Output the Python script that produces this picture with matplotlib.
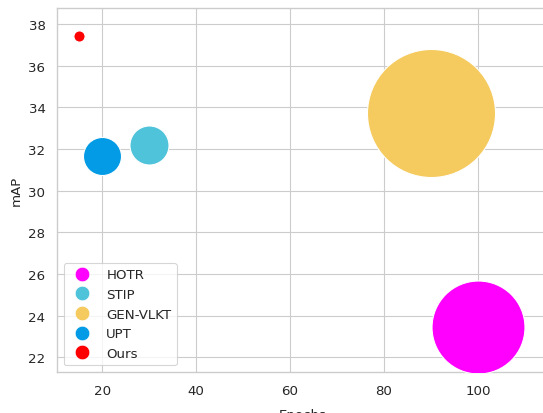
import matplotlib
matplotlib.use("Agg")
import matplotlib.pyplot as plt
from matplotlib.lines import Line2D
import seaborn as sns

# Training epochs vs. mAP for HOI detectors; bubble area encodes cost
methods = ["HOTR", "STIP", "GEN-VLKT", "UPT", "Ours"]
epochs = [100, 30, 90, 20, 15]
mAP = [23.46, 32.22, 33.75, 31.66, 37.45]
bubble_area = [4480, 790, 8500, 750, 65]
colors = ["#ff00ff", "#4fc3da", "#f5ca5e", "#039be5", "#ff0000"]

sns.set_theme(style="whitegrid", context="paper")
plt.rcParams["font.family"] = ["DejaVu Sans"]
plt.rcParams["xtick.labelsize"] = 9.6
plt.rcParams["ytick.labelsize"] = 9.6
plt.rcParams["legend.fontsize"] = 9.6
plt.rcParams["axes.labelsize"] = 9.6

fig = plt.figure(figsize=(5.43, 4.14), dpi=100)
ax = fig.add_axes([0.105, 0.099, 0.905, 0.879])

for m, x, y, s, c in zip(methods, epochs, mAP, bubble_area, colors):
    ax.scatter(x, y, s=s, color=c, edgecolor="white", linewidth=0.8,
               label=m, zorder=3)

ax.set_xlim(10.4, 115)
ax.set_ylim(21.3, 38.77)
ax.set_xticks([20, 40, 60, 80, 100])
ax.set_yticks([22, 24, 26, 28, 30, 32, 34, 36, 38])
ax.set_xlabel("Epochs", labelpad=8)
ax.set_ylabel("mAP")

handles = [Line2D([], [], marker="o", linestyle="", markersize=10.5,
                  markerfacecolor=c, markeredgecolor="white", markeredgewidth=0.5)
           for c in colors]
ax.legend(handles, methods, loc="lower left")

fig.savefig("out.png", dpi=100)
